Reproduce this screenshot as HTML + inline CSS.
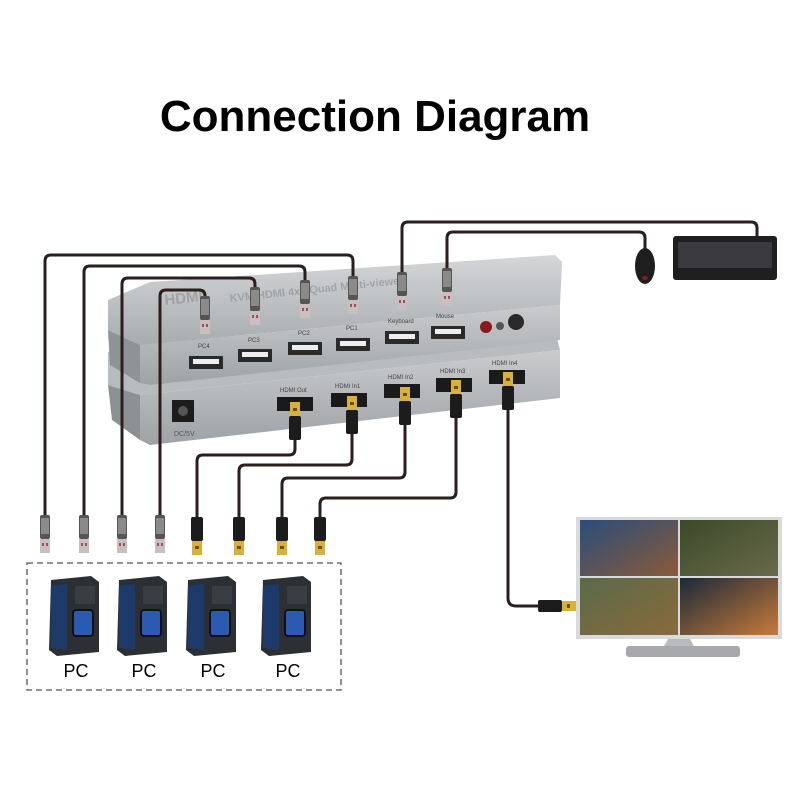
<!DOCTYPE html>
<html><head><style>
html,body{margin:0;padding:0;background:#fff;}
svg{display:block}
</style></head><body>
<svg width="800" height="800" viewBox="0 0 800 800" xmlns="http://www.w3.org/2000/svg" font-family="Liberation Sans, sans-serif">
<defs>
<linearGradient id="top" x1="0" y1="0" x2="0" y2="1"><stop offset="0" stop-color="#d4d6d8"/><stop offset="1" stop-color="#a9acaf"/></linearGradient>
<linearGradient id="face" x1="0" y1="0" x2="0" y2="1"><stop offset="0" stop-color="#c9cbcd"/><stop offset="1" stop-color="#9fa2a5"/></linearGradient>
<linearGradient id="scr1" x1="0" y1="0" x2="1" y2="1"><stop offset="0" stop-color="#2a4d7a"/><stop offset="1" stop-color="#8a5a3a"/></linearGradient>
<linearGradient id="scr2" x1="0" y1="0" x2="1" y2="1"><stop offset="0" stop-color="#3a4a2a"/><stop offset="1" stop-color="#6a6a4a"/></linearGradient>
<linearGradient id="scr3" x1="0" y1="0" x2="1" y2="1"><stop offset="0" stop-color="#5a6a4a"/><stop offset="1" stop-color="#8a6a3a"/></linearGradient>
<linearGradient id="scr4" x1="0" y1="0" x2="1" y2="1"><stop offset="0" stop-color="#1a2a3a"/><stop offset="1" stop-color="#c87a3a"/></linearGradient>
<g id="usbplug"><rect x="-5" y="0" width="10" height="24" rx="2" fill="#555"/><rect x="-4" y="3" width="8" height="16" fill="#8a8a8a"/><rect x="-5" y="24" width="10" height="14" fill="#c8c0c0"/><rect x="-3" y="28" width="2" height="3" fill="#a05050"/><rect x="1" y="28" width="2" height="3" fill="#a05050"/></g>
<g id="hdmiplug"><rect x="-6" y="0" width="12" height="24" rx="2" fill="#1c1c1c"/><rect x="-5" y="24" width="10" height="14" fill="#d8b13a"/><rect x="-2" y="29" width="4" height="3" fill="#6a5010"/></g>
<g id="pc"><polygon points="-24,-36 16,-40 24,-34 24,36 -18,40 -26,34" fill="#2c2f33"/><polygon points="-24,-30 -8,-32 -8,34 -24,32" fill="#1d3b6a"/><rect x="-2" y="-6" width="20" height="26" rx="3" fill="#2b5bb0" stroke="#111" stroke-width="2"/><rect x="0" y="-30" width="20" height="18" fill="#3a3d42"/></g>
</defs>

<text x="375" y="131" text-anchor="middle" font-size="44" font-weight="bold" fill="#000">Connection Diagram</text>

<polygon points="108,352 150,338 555,330 560,350 140,395 108,385" fill="#b9bcbf"/>
<polygon points="108,385 140,395 140,440 112,420" fill="#8e9194"/>
<polygon points="140,395 560,350 560,398 150,445 140,440" fill="url(#face)"/>
<polygon points="108,300 150,282 555,255 562,262 560,305 140,345 108,330" fill="url(#top)"/>
<polygon points="108,330 140,345 140,383 110,365" fill="#909396"/>
<polygon points="140,345 560,305 560,340 150,385 140,383" fill="url(#face)"/>
<text x="165" y="305" font-size="15" font-weight="bold" fill="#8a8d90" opacity="0.6" transform="rotate(-6 165 305)">HDMI</text>
<text x="230" y="302" font-size="11" font-weight="bold" fill="#8a8d90" opacity="0.6" transform="rotate(-6 230 302)">KVM HDMI 4x1 Quad Multi-viewer</text>

<g fill="#2a2a2a">
<rect x="189" y="356" width="34" height="13"/>
<rect x="238" y="349" width="34" height="13"/>
<rect x="288" y="342" width="34" height="13"/>
<rect x="336" y="338" width="34" height="13"/>
<rect x="385" y="331" width="34" height="13"/>
<rect x="431" y="326" width="34" height="13"/>
</g>
<g fill="#eee"><rect x="193" y="359" width="26" height="5"/><rect x="242" y="352" width="26" height="5"/><rect x="292" y="345" width="26" height="5"/><rect x="340" y="341" width="26" height="5"/><rect x="389" y="334" width="26" height="5"/><rect x="435" y="329" width="26" height="5"/></g>
<circle cx="486" cy="327" r="6" fill="#8a1b1b"/><circle cx="500" cy="326" r="4" fill="#555"/><circle cx="516" cy="322" r="8" fill="#2a2a2a"/>
<rect x="172" y="400" width="22" height="22" fill="#1c1c1c"/><circle cx="183" cy="411" r="5" fill="#555"/>
<text x="174" y="436" font-size="7" fill="#555">DC/5V</text>
<g fill="#1a1a1a"><rect x="277" y="397" width="36" height="14"/><rect x="331" y="393" width="36" height="14"/><rect x="384" y="384" width="36" height="14"/><rect x="436" y="378" width="36" height="14"/><rect x="489" y="370" width="36" height="14"/></g>
<g font-size="6" fill="#444"><text x="280" y="392">HDMI Out</text><text x="335" y="388">HDMI In1</text><text x="388" y="379">HDMI In2</text><text x="440" y="373">HDMI In3</text><text x="492" y="365">HDMI In4</text></g>
<g font-size="6" fill="#444"><text x="198" y="348">PC4</text><text x="248" y="342">PC3</text><text x="298" y="335">PC2</text><text x="346" y="330">PC1</text><text x="388" y="323">Keyboard</text><text x="436" y="318">Mouse</text></g>

<g fill="none" stroke="#2a1e1e" stroke-width="3">
<path d="M205,315 V296 Q205,290 199,290 H166 Q160,290 160,296 V520"/>
<path d="M255,305 V284 Q255,278 249,278 H128 Q122,278 122,284 V520"/>
<path d="M305,300 V272 Q305,266 299,266 H90 Q84,266 84,272 V520"/>
<path d="M353,295 V261 Q353,255 347,255 H51 Q45,255 45,261 V520"/>
<path d="M402,290 V228 Q402,222 408,222 H751 Q757,222 757,228 V238"/>
<path d="M447,285 V238 Q447,232 453,232 H639 Q645,232 645,238 V250"/>
<path d="M295,440 V449 Q295,455 289,455 H203 Q197,455 197,461 V520"/>
<path d="M352,432 V459 Q352,465 346,465 H245 Q239,465 239,471 V520"/>
<path d="M405,422 V472 Q405,478 399,478 H288 Q282,478 282,484 V520"/>
<path d="M456,415 V492 Q456,498 450,498 H326 Q320,498 320,504 V520"/>
<path d="M508,405 V598 Q508,606 516,606 H540"/>
</g>
<use href="#usbplug" x="205" y="296"/>
<use href="#usbplug" x="255" y="287"/>
<use href="#usbplug" x="305" y="280"/>
<use href="#usbplug" x="353" y="276"/>
<use href="#usbplug" x="402" y="272"/>
<use href="#usbplug" x="447" y="268"/>
<g transform="translate(295,440) rotate(180)"><use href="#hdmiplug"/></g>
<g transform="translate(352,434) rotate(180)"><use href="#hdmiplug"/></g>
<g transform="translate(405,425) rotate(180)"><use href="#hdmiplug"/></g>
<g transform="translate(456,418) rotate(180)"><use href="#hdmiplug"/></g>
<g transform="translate(508,410) rotate(180)"><use href="#hdmiplug"/></g>

<use href="#usbplug" x="45" y="515"/><use href="#usbplug" x="84" y="515"/><use href="#usbplug" x="122" y="515"/><use href="#usbplug" x="160" y="515"/>
<use href="#hdmiplug" x="197" y="517"/><use href="#hdmiplug" x="239" y="517"/><use href="#hdmiplug" x="282" y="517"/><use href="#hdmiplug" x="320" y="517"/>
<g transform="translate(538,606) rotate(-90)"><use href="#hdmiplug"/></g>

<rect x="27" y="563" width="314" height="127" fill="none" stroke="#555" stroke-width="1.3" stroke-dasharray="6,4"/>
<use href="#pc" x="75" y="616"/><use href="#pc" x="143" y="616"/><use href="#pc" x="212" y="616"/><use href="#pc" x="287" y="616"/>
<g font-size="18" fill="#000" text-anchor="middle"><text x="76" y="677">PC</text><text x="144" y="677">PC</text><text x="213" y="677">PC</text><text x="288" y="677">PC</text></g>

<ellipse cx="645" cy="266" rx="10" ry="18" fill="#1e1e1e"/>
<ellipse cx="645" cy="278" rx="3" ry="2" fill="#8a1b1b"/>
<rect x="673" y="236" width="104" height="44" rx="3" fill="#1f1f22"/>
<rect x="678" y="242" width="94" height="26" fill="#3a3a40"/>

<rect x="576" y="517" width="206" height="122" fill="#d9dadc"/>
<rect x="580" y="520" width="98" height="56" fill="url(#scr1)"/>
<rect x="680" y="520" width="98" height="56" fill="url(#scr2)"/>
<rect x="580" y="578" width="98" height="57" fill="url(#scr3)"/>
<rect x="680" y="578" width="98" height="57" fill="url(#scr4)"/>
<polygon points="668,639 690,639 695,648 663,648" fill="#b8babd"/>
<rect x="626" y="646" width="114" height="11" rx="3" fill="#a7a9ac"/>
</svg>
</body></html>
